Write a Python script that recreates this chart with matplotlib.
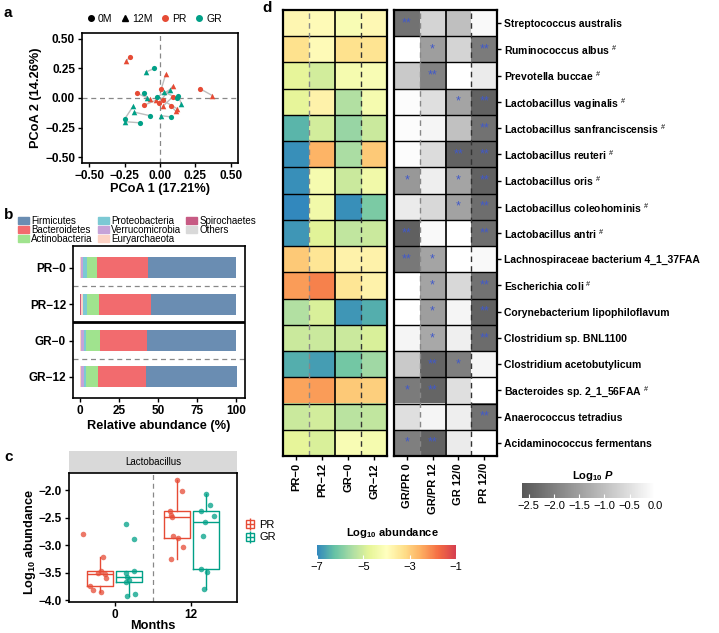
import numpy as np
import matplotlib.pyplot as plt
from matplotlib.colors import LinearSegmentedColormap, Normalize
from matplotlib.cm import ScalarMappable
from matplotlib.lines import Line2D
from matplotlib.patches import Patch

plt.rcParams['font.family'] = ['Liberation Sans', 'DejaVu Sans']
plt.rcParams['mathtext.fontset'] = 'custom'
plt.rcParams['mathtext.rm'] = 'Liberation Sans'
plt.rcParams['mathtext.bf'] = 'Liberation Sans:bold'
plt.rcParams['mathtext.it'] = 'Liberation Sans:italic'
plt.rcParams['mathtext.bfit'] = 'Liberation Sans:italic:bold'

# ---- panel a: PCoA (0M -> 12M pairs) ----
pr_0m_x = [-0.21, 0.01, 0.28, -0.16, -0.01, 0.09, 0.08, -0.11, 0.02]
pr_0m_y = [0.35, 0.08, 0.08, 0.04, -0.04, 0.01, -0.07, -0.06, -0.02]
pr_12m_x = [-0.24, 0.04, 0.37, -0.07, 0.09, 0.02, 0.11, -0.03, 0.12]
pr_12m_y = [0.31, 0.20, 0.02, -0.01, 0.10, -0.07, -0.11, -0.02, -0.09]
gr_0m_x = [-0.04, -0.11, 0.13, -0.07, 0.08, -0.25, -0.14, 0.12, -0.02]
gr_0m_y = [0.25, 0.04, 0.02, -0.15, -0.16, -0.18, -0.21, 0.00, 0.01]
gr_12m_x = [-0.10, -0.09, 0.15, -0.18, 0.01, -0.19, -0.25, 0.03, 0.07]
gr_12m_y = [0.22, 0.00, -0.05, -0.12, -0.15, -0.07, -0.20, 0.05, 0.07]

# ---- panel b: phylum composition (%) ----
groups_b = ['PR\u22120', 'PR\u221212', 'GR\u22120', 'GR\u221212']
phyla = ['Firmicutes', 'Bacteroidetes', 'Actinobacteria', 'Proteobacteria',
         'Verrucomicrobia', 'Euryarchaeota', 'Spirochaetes', 'Others']
firmicutes = [56.4, 54.3, 57.0, 58.1]
bacteroidetes = [33.0, 33.4, 30.2, 30.6]
actinobacteria = [6.0, 7.7, 9.2, 7.5]
proteobacteria = [2.6, 2.6, 1.0, 1.3]
verrucomicrobia = [1.2, 0.2, 1.7, 1.9]
euryarchaeota = [0.6, 1.5, 0.7, 0.5]
spirochaetes = [0.1, 0.1, 0.1, 0.1]
others = [0.1, 0.2, 0.1, 0.1]

# ---- panel c: Lactobacillus log10 abundance ----
pr_0 = [-2.80, -3.22, -3.47, -3.50, -3.52, -3.60, -3.74, -3.81, -3.85]
pr_0_dx = [-0.23, 0.03, 0.01, -0.03, 0.06, 0.07, -0.13, -0.10, 0.01]
gr_0 = [-2.61, -2.89, -3.46, -3.50, -3.58, -3.63, -3.66, -3.89, -3.93]
gr_0_dx = [-0.05, 0.06, 0.06, -0.04, -0.03, 0.00, -0.04, 0.07, -0.03]
pr_12 = [-1.81, -2.02, -2.38, -2.45, -2.49, -2.83, -2.86, -3.04, -3.25]
pr_12_dx = [0.00, 0.07, -0.09, -0.07, -0.06, -0.05, 0.02, 0.08, -0.08]
gr_12 = [-2.07, -2.27, -2.38, -2.47, -2.57, -2.83, -3.43, -3.48, -3.79]
gr_12_dx = [0.01, 0.06, -0.06, 0.11, -0.01, -0.04, -0.06, 0.02, -0.02]

# ---- panel d: species heatmaps ----
species = ['Streptococcus australis', r'Ruminococcus albus $^{\#}$',
           r'Prevotella buccae $^{\#}$', r'Lactobacillus vaginalis $^{\#}$',
           r'Lactobacillus sanfranciscensis $^{\#}$', r'Lactobacillus reuteri $^{\#}$',
           r'Lactobacillus oris $^{\#}$', r'Lactobacillus coleohominis $^{\#}$',
           r'Lactobacillus antri $^{\#}$', 'Lachnospiraceae bacterium 4_1_37FAA',
           r'Escherichia coli $^{\#}$', 'Corynebacterium lipophiloflavum',
           'Clostridium sp. BNL1100', 'Clostridium acetobutylicum',
           r'Bacteroides sp. 2_1_56FAA $^{\#}$', 'Anaerococcus tetradius',
           'Acidaminococcus fermentans']
abund_cols = ['PR\u22120', 'PR\u221212', 'GR\u22120', 'GR\u221212']
abund = [[-3.8, -3.9, -4.2, -3.85],
         [-3.3, -3.9, -3.3, -3.35],
         [-4.7, -5.0, -4.3, -4.2],
         [-4.7, -3.7, -5.4, -4.3],
         [-6.4, -5.0, -5.7, -5.1],
         [-6.9, -2.6, -5.5, -2.9],
         [-6.9, -4.3, -5.1, -4.4],
         [-7.0, -4.4, -6.9, -6.0],
         [-6.8, -4.8, -5.2, -5.1],
         [-2.9, -3.4, -3.7, -3.7],
         [-2.3, -2.0, -3.4, -3.7],
         [-5.4, -4.9, -6.8, -6.5],
         [-5.1, -5.1, -5.1, -4.9],
         [-6.5, -6.7, -6.1, -5.6],
         [-2.4, -2.3, -2.9, -3.0],
         [-5.1, -5.0, -5.3, -5.2],
         [-4.7, -4.9, -4.2, -4.3]]
p_cols = ['GR/PR 0', 'GR/PR 12', 'GR 12/0', 'PR 12/0']
logp = [[-2.2, -0.66, -1.0, -0.1],
        [0.0, -1.52, -0.66, -2.06],
        [-0.84, -1.94, 0.0, -0.3],
        [-0.05, -0.5, -1.42, -2.45],
        [-0.05, -0.16, -0.97, -2.2],
        [-0.05, -0.55, -2.45, -2.45],
        [-1.6, -0.26, -1.42, -2.45],
        [-0.3, -0.6, -1.45, -2.26],
        [-2.48, -0.1, 0.0, -2.26],
        [-2.1, -1.42, 0.0, -0.1],
        [0.0, -1.42, -0.6, -2.2],
        [0.0, -1.5, -0.16, -2.45],
        [-0.16, -1.35, -0.25, -2.3],
        [-0.84, -2.4, -2.0, -0.16],
        [-2.06, -2.4, -0.5, 0.0],
        [-0.5, -0.16, -0.26, -2.2],
        [-2.0, -2.45, -0.3, 0.0]]
stars = [['**', '', '', ''],
         ['', '*', '', '**'],
         ['', '**', '', ''],
         ['', '', '*', '**'],
         ['', '', '', '**'],
         ['', '', '**', '**'],
         ['*', '', '*', '**'],
         ['', '', '*', '**'],
         ['**', '', '', '**'],
         ['**', '*', '', ''],
         ['', '*', '', '**'],
         ['', '*', '', '**'],
         ['', '*', '', '**'],
         ['', '**', '*', ''],
         ['*', '**', '', ''],
         ['', '', '', '**'],
         ['*', '**', '', '']]

PR_COL = '#E64B35'
GR_COL = '#00A087'

W, H = 719, 633
fig = plt.figure(figsize=(W / 100, H / 100), dpi=100)


def add_ax(l, t, r, b):
    return fig.add_axes([l / W, 1 - b / H, (r - l) / W, (b - t) / H])


def ftext(x, y, s, **kw):
    fig.text(x / W, 1 - y / H, s, **kw)


def style_frame(ax, lw=1.2):
    for sp in ax.spines.values():
        sp.set_linewidth(lw)
        sp.set_color('black')
    ax.tick_params(length=3, width=1, labelsize=8.5, pad=2)
    for lbl in ax.get_xticklabels() + ax.get_yticklabels():
        lbl.set_fontweight('bold')


# ================= a =================
ax = add_ax(82, 33, 238, 163)
ax.axhline(0, color='#888888', lw=0.9, ls=(0, (4, 3)), zorder=0)
ax.axvline(0, color='#888888', lw=0.9, ls=(0, (4, 3)), zorder=0)
for xs0, ys0, xs1, ys1 in [(pr_0m_x, pr_0m_y, pr_12m_x, pr_12m_y),
                           (gr_0m_x, gr_0m_y, gr_12m_x, gr_12m_y)]:
    for x0, y0, x1, y1 in zip(xs0, ys0, xs1, ys1):
        ax.plot([x0, x1], [y0, y1], color='#BDBDBD', lw=1, zorder=1)
ax.scatter(pr_0m_x, pr_0m_y, s=14, marker='o', color=PR_COL, zorder=3, lw=0)
ax.scatter(pr_12m_x, pr_12m_y, s=16, marker='^', color=PR_COL, zorder=3, lw=0)
ax.scatter(gr_0m_x, gr_0m_y, s=14, marker='o', color=GR_COL, zorder=3, lw=0)
ax.scatter(gr_12m_x, gr_12m_y, s=16, marker='^', color=GR_COL, zorder=3, lw=0)
ax.set_xlim(-0.55, 0.55)
ax.set_ylim(-0.55, 0.55)
tk = [-0.5, -0.25, 0, 0.25, 0.5]
tkl = ['\u22120.50', '\u22120.25', '0.00', '0.25', '0.50']
ax.set_xticks(tk)
ax.set_xticklabels(tkl)
ax.set_yticks(tk)
ax.set_yticklabels(tkl)
style_frame(ax)
ftext(160, 189, 'PCoA 1 (17.21%)', ha='center', va='center', fontsize=9.2, fontweight='bold')
ftext(36, 98, 'PCoA 2 (14.26%)', ha='center', va='center', rotation=90, fontsize=9.2, fontweight='bold')
h_a = [Line2D([], [], marker='o', color='black', ls='', ms=4),
       Line2D([], [], marker='^', color='black', ls='', ms=4.5),
       Line2D([], [], marker='o', color=PR_COL, ls='', ms=4),
       Line2D([], [], marker='o', color=GR_COL, ls='', ms=4)]
fig.legend(h_a, ['0M', '12M', 'PR', 'GR'], loc='center', bbox_to_anchor=(155 / W, 1 - 19 / H),
           ncol=4, frameon=False, fontsize=7.5, handlelength=0.6, handletextpad=0.4,
           columnspacing=0.9, borderpad=0)
ftext(4, 13, 'a', ha='left', va='center', fontsize=11, fontweight='bold')

# ================= b =================
axb = add_ax(73, 246, 245, 398)
stack = [others, spirochaetes, euryarchaeota, verrucomicrobia, proteobacteria,
         actinobacteria, bacteroidetes, firmicutes]
stack_names = phyla[::-1]
phy_cols = {'Firmicutes': '#6A8DB2', 'Bacteroidetes': '#F26B6E', 'Actinobacteria': '#A0E38E',
            'Proteobacteria': '#7CC9D4', 'Verrucomicrobia': '#C6A3D8', 'Euryarchaeota': '#FDD2C4',
            'Spirochaetes': '#C75B84', 'Others': '#D9D9D9'}
ypos = np.arange(len(groups_b))
left = np.zeros(len(groups_b))
for vals, name in zip(stack, stack_names):
    axb.barh(ypos, vals, left=left, height=0.58, color=phy_cols[name], lw=0)
    left += np.array(vals)
axb.axhline(0.5, color='#888888', lw=0.9, ls=(0, (4, 3)))
axb.axhline(2.5, color='#888888', lw=0.9, ls=(0, (4, 3)))
axb.axhline(1.5, color='black', lw=2)
axb.set_ylim(3.58, -0.6)
axb.set_xlim(-4.5, 105.5)
axb.set_yticks(ypos)
axb.set_yticklabels(groups_b)
axb.set_xticks([0, 25, 50, 75, 100])
style_frame(axb)
ftext(159, 426, 'Relative abundance (%)', ha='center', va='center', fontsize=9.2, fontweight='bold')
h_b = [Patch(color=phy_cols[p]) for p in phyla]
fig.legend(h_b, phyla, loc='upper left', bbox_to_anchor=(13 / W, 1 - 211 / H), ncol=3,
           frameon=False, fontsize=7, handlelength=1.1, handleheight=0.75, handletextpad=0.25,
           columnspacing=0.55, labelspacing=-0.12, borderpad=0)
ftext(4, 215, 'b', ha='left', va='center', fontsize=11, fontweight='bold')

# ================= c =================
axs = add_ax(69, 451, 237, 473)
axs.set_facecolor('#D9D9D9')
axs.set_xticks([])
axs.set_yticks([])
for sp in axs.spines.values():
    sp.set_visible(False)
axs.text(0.5, 0.5, 'Lactobacillus', ha='center', va='center', fontsize=7, transform=axs.transAxes)

axc = add_ax(69, 473, 237, 602)
axc.axvline(1.5, color='#888888', lw=0.9, ls=(0, (4, 3)), zorder=0)
box_sets = [(pr_0, pr_0_dx, 0.81, PR_COL), (gr_0, gr_0_dx, 1.19, GR_COL),
            (pr_12, pr_12_dx, 1.81, PR_COL), (gr_12, gr_12_dx, 2.19, GR_COL)]
for vals, dx, pos, col in box_sets:
    axc.boxplot([vals], positions=[pos], widths=0.34, showfliers=False, showcaps=False,
                boxprops=dict(color=col, lw=1), medianprops=dict(color=col, lw=1),
                whiskerprops=dict(color=col, lw=1), manage_ticks=False)
    axc.scatter(pos + np.array(dx), vals, s=16, color=col, alpha=0.75, lw=0, zorder=3)
axc.set_xlim(0.4, 2.6)
axc.set_ylim(-4.03, -1.69)
axc.set_xticks([1, 2])
axc.set_xticklabels(['0', '12'])
axc.set_yticks([-4.0, -3.5, -3.0, -2.5, -2.0])
axc.set_yticklabels(['\u22124.0', '\u22123.5', '\u22123.0', '\u22122.5', '\u22122.0'])
style_frame(axc)
ftext(153, 626, 'Months', ha='center', va='center', fontsize=9.2, fontweight='bold')
ftext(30, 542, r'Log$_{\mathbf{10}}$ abundance', ha='center', va='center', rotation=90,
      fontsize=9.2, fontweight='bold')
h_c = []
for col in [PR_COL, GR_COL]:
    h_c.append((Line2D([], [], marker='s', ms=6, mfc='white', mec=col, mew=1, ls=''),
                Line2D([], [], marker='_', ms=6, color=col, mew=1, ls=''),
                Line2D([], [], marker='|', ms=9, color=col, mew=1, ls='')))
fig.legend(h_c, ['PR', 'GR'], loc='center left', bbox_to_anchor=(239 / W, 1 - 531 / H),
           frameon=False, fontsize=8, handlelength=1.0, handletextpad=0.3, labelspacing=0.25,
           borderpad=0)
ftext(4, 457, 'c', ha='left', va='center', fontsize=11, fontweight='bold')

# ================= d =================
cmap_ab = LinearSegmentedColormap.from_list(
    'spec', ['#3288BD', '#66C2A5', '#ABDDA4', '#E6F598', '#FFFFBF',
             '#FEE08B', '#FDAE61', '#F46D43', '#D53E4F'])
cmap_p = LinearSegmentedColormap.from_list('grey', ['#575757', '#FFFFFF'])
n = len(species)

axh1 = add_ax(283, 10, 387, 456)
axh1.imshow(np.array(abund), cmap=cmap_ab, vmin=-7, vmax=-1, aspect='auto',
            extent=(-0.5, 3.5, n - 0.5, -0.5), interpolation='nearest')
axh2 = add_ax(394, 10, 497, 456)
axh2.imshow(np.array(logp), cmap=cmap_p, vmin=-2.63, vmax=0, aspect='auto',
            extent=(-0.5, 3.5, n - 0.5, -0.5), interpolation='nearest')
for axh in [axh1, axh2]:
    for y in np.arange(0.5, n - 0.5, 1):
        axh.axhline(y, color='black', lw=1)
    axh.axvline(0.5, color='#888888', lw=1, ls=(0, (4, 3)))
    axh.axvline(1.5, color='black', lw=1.2)
    axh.axvline(2.5, color='#333333', lw=1, ls=(0, (4, 3)))
    axh.set_xlim(-0.5, 3.5)
    axh.set_ylim(n - 0.5, -0.5)
    axh.set_xticks(range(4))
    for sp in axh.spines.values():
        sp.set_linewidth(1.6)
    axh.tick_params(length=3, width=1, pad=2)
axh1.set_xticklabels(abund_cols, rotation=90, fontsize=8, fontweight='bold')
axh2.set_xticklabels(p_cols, rotation=90, fontsize=8, fontweight='bold')
axh1.set_yticks([])
axh2.yaxis.tick_right()
axh2.set_yticks(range(n))
axh2.set_yticklabels(species, fontsize=7.5, fontweight='bold')
for i in range(n):
    for j in range(4):
        if stars[i][j]:
            axh2.text(j, i, stars[i][j], ha='center', va='center', color='#4159C9', fontsize=9)

cax1 = add_ax(317, 545, 456, 559)
cb1 = fig.colorbar(ScalarMappable(norm=Normalize(-7, -1), cmap=cmap_ab), cax=cax1,
                   orientation='horizontal', ticks=[-7, -5, -3, -1])
cb1.outline.set_visible(False)
cax1.tick_params(length=3, color='white', direction='in', labelsize=8, pad=2)
ftext(392, 533, r'Log$_{\mathbf{10}}$ abundance', ha='center', va='center', fontsize=8, fontweight='bold')

cax2 = add_ax(522, 483, 655, 498)
cb2 = fig.colorbar(ScalarMappable(norm=Normalize(-2.63, 0), cmap=cmap_p), cax=cax2,
                   orientation='horizontal', ticks=[-2.5, -2.0, -1.5, -1.0, -0.5, 0.0])
cb2.outline.set_visible(False)
cb2.ax.set_xticklabels(['\u22122.5', '\u22122.0', '\u22121.5', '\u22121.0', '\u22120.5', '0.0'])
cax2.tick_params(length=3, color='white', direction='in', labelsize=8, pad=2)
ftext(593, 476, r'Log$_{\mathbf{10}}$ $\mathbfit{P}$', ha='center', va='center', fontsize=8, fontweight='bold')

ftext(262, 8, 'd', ha='left', va='center', fontsize=11, fontweight='bold')

fig.savefig('out.png', dpi=100)
